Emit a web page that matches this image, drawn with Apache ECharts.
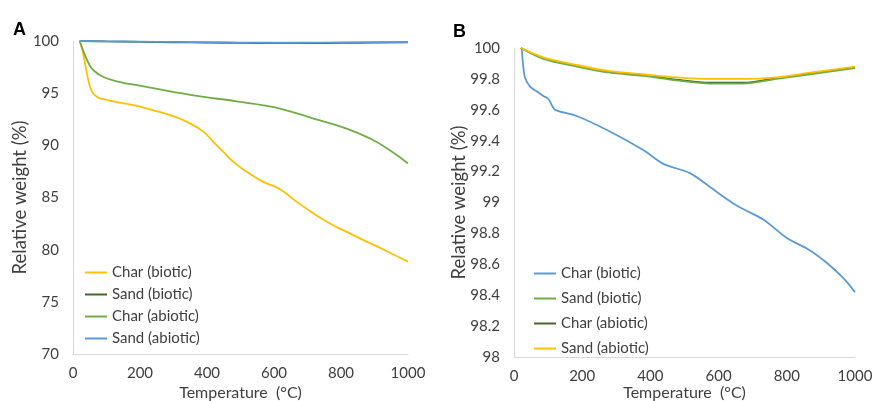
<!DOCTYPE html>
<html>
<head>
<meta charset="utf-8">
<script src="https://cdn.jsdelivr.net/npm/echarts@6/dist/echarts.min.js"></script>
<style>html,body{margin:0;padding:0;background:#fff}#c{width:873px;height:401px}</style>
</head>
<body>
<div id="c"></div>
<script>
// ---- Panel A data ----
var namesA = ['Char (biotic)', 'Sand (biotic)', 'Char (abiotic)', 'Sand (abiotic)'];
var tA_charBiotic = [20, 27, 37, 47, 57, 72, 91, 141, 191, 240, 290, 340, 390, 419, 449, 479, 519, 568, 618, 668, 717, 767, 817, 867, 934, 1000];
var vA_charBiotic = [100, 99.27, 97.67, 96.07, 95.12, 94.64, 94.42, 94.10, 93.78, 93.36, 92.89, 92.25, 91.29, 90.33, 89.37, 88.41, 87.46, 86.5, 85.8, 84.58, 83.5, 82.51, 81.7, 80.92, 79.9, 78.84];
var tA_sandBiotic = [20, 100, 200, 300, 400, 500, 600, 700, 800, 900, 1000];
var vA_sandBiotic = [100, 99.96, 99.92, 99.88, 99.85, 99.82, 99.8, 99.8, 99.82, 99.85, 99.88];
var tA_charAbiotic = [20, 32, 47, 61, 91, 141, 191, 290, 390, 469, 499, 568, 618, 718, 817, 887, 946, 1000];
var vA_charAbiotic = [100, 98.95, 97.84, 97.2, 96.55, 96.07, 95.76, 95.18, 94.64, 94.32, 94.16, 93.84, 93.52, 92.57, 91.61, 90.65, 89.53, 88.26];
var tA_sandAbiotic = [20, 100, 200, 300, 400, 500, 600, 700, 800, 900, 1000];
var vA_sandAbiotic = [100, 99.97, 99.94, 99.91, 99.88, 99.85, 99.83, 99.84, 99.86, 99.88, 99.9];

// ---- Panel B data ----
var namesB = ['Char (biotic)', 'Sand (biotic)', 'Char (abiotic)', 'Sand (abiotic)'];
var tB_charBiotic = [20, 22.5, 25.4, 32, 47, 66, 86, 101, 111, 120.6, 184, 281, 379, 438, 516, 575, 653, 731, 800, 868, 917, 966, 1000];
var vB_charBiotic = [100, 99.996, 99.92, 99.81, 99.75, 99.72, 99.69, 99.67, 99.63, 99.60, 99.56, 99.46, 99.34, 99.25, 99.19, 99.10, 98.98, 98.89, 98.77, 98.69, 98.61, 98.51, 98.42];
var tB_sandBiotic = [20, 86, 184, 281, 379, 477, 575, 672, 770, 868, 1000];
var vB_sandBiotic = [100, 99.93, 99.88, 99.84, 99.82, 99.79, 99.77, 99.77, 99.80, 99.83, 99.87];
var tB_charAbiotic = [20, 86, 184, 281, 379, 477, 575, 672, 770, 868, 1000];
var vB_charAbiotic = [100, 99.935, 99.885, 99.845, 99.825, 99.795, 99.775, 99.775, 99.805, 99.835, 99.875];
var tB_sandAbiotic = [20, 86, 184, 281, 379, 477, 575, 672, 770, 868, 1000];
var vB_sandAbiotic = [100, 99.94, 99.89, 99.85, 99.83, 99.81, 99.80, 99.80, 99.81, 99.84, 99.88];

var xTicks = { min: 0, max: 1000, interval: 200 };

function pairs(t, v) { return t.map(function (x, i) { return [x, v[i]]; }); }

var colorsA = ['#FFC000', '#3E6B2A', '#70AD47', '#5B9BD5'];
var colorsB = ['#5B9BD5', '#70AD47', '#3E6B2A', '#FFC000'];

var FONT = 'Lato';
var labelColor = '#404040';
var axisColor = '#D9D9D9';

function mkSeries(panel, name, t, v, color, idx, smooth) {
  return {
    type: 'line', name: panel + name, xAxisIndex: idx, yAxisIndex: idx,
    data: pairs(t, v), symbol: 'none', smooth: smooth,
    lineStyle: { color: color, width: 1.8 }, itemStyle: { color: color },
    emphasis: { disabled: true }, z: 2
  };
}

function xAxis(idx, gap) {
  return {
    type: 'value', gridIndex: idx, min: xTicks.min, max: xTicks.max, interval: xTicks.interval,
    name: 'Temperature  (°C)', nameLocation: 'middle', nameGap: gap, nameMoveOverlap: false,
    nameTextStyle: { fontFamily: FONT, fontSize: 16, color: labelColor },
    axisLine: { show: true, lineStyle: { color: axisColor, width: 1 } },
    axisTick: { show: false }, splitLine: { show: false },
    axisLabel: { fontFamily: FONT, fontSize: 15, color: labelColor, margin: 12,
      formatter: function (v) { return String(v); } }
  };
}
function yAxis(idx, min, max, interval, gap) {
  return {
    type: 'value', gridIndex: idx, min: min, max: max, interval: interval,
    name: 'Relative weight (%)', nameLocation: 'middle', nameGap: gap, nameMoveOverlap: false,
    nameTextStyle: { fontFamily: FONT, fontSize: 18.5, color: labelColor },
    axisLine: { show: true, lineStyle: { color: axisColor, width: 1 } },
    axisTick: { show: false }, splitLine: { show: false },
    axisLabel: { fontFamily: FONT, fontSize: 15, color: labelColor, margin: 14 }
  };
}
function strip(n) { return n.slice(2); }

var chart = echarts.init(document.getElementById('c'), null, { renderer: 'canvas' });
chart.setOption({
  animation: false,
  backgroundColor: '#ffffff',
  title: [
    { text: 'A', left: 8, top: 16, textStyle: { fontFamily: 'Liberation Sans', fontWeight: 'bold', fontSize: 18, color: '#000' } },
    { text: 'B', left: 448, top: 18, textStyle: { fontFamily: 'Liberation Sans', fontWeight: 'bold', fontSize: 18, color: '#000' } }
  ],
  grid: [
    { left: 73, top: 41, width: 335, height: 313, outerBoundsMode: 'none', containLabel: false },
    { left: 514, top: 48, width: 341, height: 309, outerBoundsMode: 'none', containLabel: false }
  ],
  xAxis: [xAxis(0, 31), xAxis(1, 28)],
  yAxis: [yAxis(0, 70, 100, 5, 43), yAxis(1, 98, 100, 0.2, 45)],
  legend: [
    {
      orient: 'vertical', left: 80, top: 260, icon: 'rect', itemWidth: 22, itemHeight: 2, itemGap: 7,
      data: namesA.map(function (n) { return 'A:' + n; }), formatter: strip,
      textStyle: { fontFamily: FONT, fontSize: 15, color: labelColor, lineHeight: 15 }
    },
    {
      orient: 'vertical', left: 529, top: 261, icon: 'rect', itemWidth: 22, itemHeight: 2, itemGap: 10,
      data: namesB.map(function (n) { return 'B:' + n; }), formatter: strip,
      textStyle: { fontFamily: FONT, fontSize: 15, color: labelColor, lineHeight: 15 }
    }
  ],
  series: [
    mkSeries('A:', namesA[0], tA_charBiotic, vA_charBiotic, colorsA[0], 0, true),
    mkSeries('A:', namesA[1], tA_sandBiotic, vA_sandBiotic, colorsA[1], 0, true),
    mkSeries('A:', namesA[2], tA_charAbiotic, vA_charAbiotic, colorsA[2], 0, true),
    mkSeries('A:', namesA[3], tA_sandAbiotic, vA_sandAbiotic, colorsA[3], 0, true),
    mkSeries('B:', namesB[0], tB_charBiotic, vB_charBiotic, colorsB[0], 1, 0.3),
    mkSeries('B:', namesB[2], tB_charAbiotic, vB_charAbiotic, colorsB[2], 1, 0.3),
    mkSeries('B:', namesB[1], tB_sandBiotic, vB_sandBiotic, colorsB[1], 1, 0.3),
    mkSeries('B:', namesB[3], tB_sandAbiotic, vB_sandAbiotic, colorsB[3], 1, 0.3)
  ]
});
</script>
</body>
</html>
